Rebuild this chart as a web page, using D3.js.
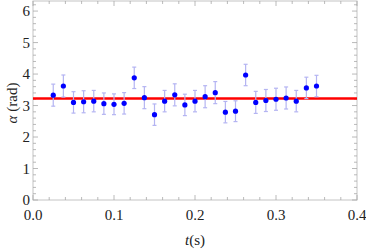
<!DOCTYPE html>
<html>
<head>
<meta charset="utf-8">
<script src="https://cdn.jsdelivr.net/npm/d3@7"></script>
<style>
  html, body { margin: 0; padding: 0; background: #fff; }
  svg { display: block; }
</style>
</head>
<body>
<svg id="chart"></svg>
<script>
// Chart size
const width = 366, height = 249;

// Measured angles alpha (rad) vs time t (s)
const times = [0.025, 0.0375, 0.05, 0.0625, 0.075, 0.0875, 0.1, 0.1125, 0.125, 0.1375,
               0.15, 0.1625, 0.175, 0.1875, 0.2, 0.2125, 0.225, 0.2375, 0.25, 0.2625,
               0.275, 0.2875, 0.3, 0.3125, 0.325, 0.3375, 0.35];
const alphas = [3.33, 3.62, 3.10, 3.12, 3.14, 3.06, 3.04, 3.07, 3.88, 3.25,
                2.71, 3.14, 3.34, 3.02, 3.14, 3.28, 3.41, 2.79, 2.82, 3.97,
                3.10, 3.16, 3.20, 3.24, 3.14, 3.56, 3.62];
const errors = [0.35, 0.35, 0.34, 0.35, 0.34, 0.34, 0.33, 0.34, 0.34, 0.35,
                0.34, 0.34, 0.35, 0.34, 0.34, 0.35, 0.35, 0.34, 0.33, 0.34,
                0.35, 0.35, 0.35, 0.35, 0.34, 0.34, 0.34];
const meanAlpha = 3.22;

const xTicks = [0, 0.1, 0.2, 0.3, 0.4];
const yTicks = [0, 1, 2, 3, 4, 5, 6];

// Plot frame
const plotLeft = 33, plotRight = 357, plotTop = 1, plotBottom = 200;
const serif = "'Liberation Serif', 'Times New Roman', serif";

const x = d3.scaleLinear().domain([0, 0.4]).range([plotLeft, plotRight]);
const y = d3.scaleLinear().domain([0, 6.32]).range([plotBottom, plotTop]);

const svg = d3.select("#chart")
    .attr("width", width)
    .attr("height", height)
    .attr("font-family", serif);

const frameColor = "#c4c4c4";
const tickColor = "#a8a8a8";

// Frame
svg.append("rect")
    .attr("x", plotLeft).attr("y", plotTop)
    .attr("width", plotRight - plotLeft).attr("height", plotBottom - plotTop)
    .attr("fill", "none")
    .attr("stroke", frameColor)
    .attr("stroke-width", 1);

// Inward ticks on all four sides
const xMinor = d3.range(0, 0.4001, 0.02);
const yMinor = d3.range(0, 6.3, 0.2);

const tickG = svg.append("g").attr("stroke", tickColor).attr("stroke-width", 0.8);

xMinor.forEach(v => {
    const major = Math.abs(v * 10 - Math.round(v * 10)) < 1e-6;
    const len = major ? 5 : 3;
    const px = x(v);
    tickG.append("line").attr("x1", px).attr("x2", px).attr("y1", plotBottom).attr("y2", plotBottom - len);
    tickG.append("line").attr("x1", px).attr("x2", px).attr("y1", plotTop).attr("y2", plotTop + len);
});

yMinor.forEach(v => {
    const major = Math.abs(v - Math.round(v)) < 1e-6;
    const len = major ? 5 : 3;
    const py = y(v);
    tickG.append("line").attr("x1", plotLeft).attr("x2", plotLeft + len).attr("y1", py).attr("y2", py);
    tickG.append("line").attr("x1", plotRight).attr("x2", plotRight - len).attr("y1", py).attr("y2", py);
});

// Tick labels
svg.selectAll(".xlab")
    .data(xTicks)
    .enter()
    .append("text")
    .attr("x", d => x(d))
    .attr("y", 220)
    .attr("text-anchor", "middle")
    .attr("font-size", 15)
    .attr("fill", "#222")
    .text(d => d3.format(".1f")(d));

svg.selectAll(".ylab")
    .data(yTicks)
    .enter()
    .append("text")
    .attr("x", 30)
    .attr("y", d => y(d))
    .attr("dy", "0.35em")
    .attr("text-anchor", "end")
    .attr("font-size", 15)
    .attr("fill", "#222")
    .text(d => d);

// Axis titles
const xTitle = svg.append("text")
    .attr("x", x(0.2))
    .attr("y", 245)
    .attr("text-anchor", "middle")
    .attr("font-size", 15)
    .attr("fill", "#222");
xTitle.append("tspan").attr("font-style", "italic").text("t");
xTitle.append("tspan").text("(s)");

const yTitle = svg.append("text")
    .attr("transform", "translate(17," + 103 + ") rotate(-90)")
    .attr("text-anchor", "middle")
    .attr("font-size", 15)
    .attr("fill", "#222");
yTitle.append("tspan").attr("font-style", "italic").text("\u03b1");
yTitle.append("tspan").text(" (rad)");

// Mean line
svg.append("line")
    .attr("x1", plotLeft).attr("x2", plotRight)
    .attr("y1", y(meanAlpha)).attr("y2", y(meanAlpha))
    .attr("stroke", "#f00")
    .attr("stroke-width", 2.5);

// Error bars
const points = times.map((t, i) => ({ t, a: alphas[i], e: errors[i] }));
const errG = svg.append("g").attr("stroke", "#b4b4f2").attr("stroke-width", 1.2);

points.forEach(d => {
    const px = x(d.t);
    errG.append("line").attr("x1", px).attr("x2", px)
        .attr("y1", y(d.a - d.e)).attr("y2", y(d.a + d.e));
    [d.a - d.e, d.a + d.e].forEach(v => {
        errG.append("line").attr("x1", px - 2).attr("x2", px + 2)
            .attr("y1", y(v)).attr("y2", y(v));
    });
});

// Points
svg.selectAll("circle")
    .data(points)
    .enter()
    .append("circle")
    .attr("cx", d => x(d.t))
    .attr("cy", d => y(d.a))
    .attr("r", 2.6)
    .attr("fill", "#0000ff");
</script>
</body>
</html>
